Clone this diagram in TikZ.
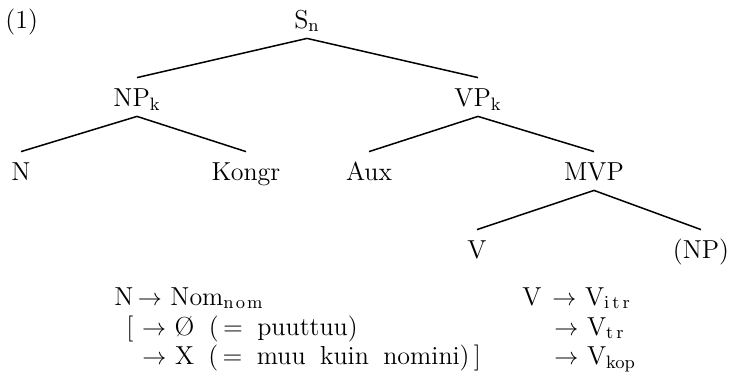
\documentclass[tikz,border=0pt]{standalone}
\usepackage{amsmath,amssymb}
\usepackage{tikz}
\usetikzlibrary{positioning}

\newcommand{\rgap}{\hspace{4.3pt}}

\tikzset{
  cat/.style={anchor=base, inner xsep=0pt, inner ysep=4.5pt, text height=9.5pt, text depth=0.5pt, font=\fontsize{13}{15}\selectfont},
  rulebox/.style={anchor=base west, inner sep=0pt, font=\fontsize{13}{15}\selectfont},
  widerule/.style={rulebox, font={\fontsize{13}{15}\selectfont\spaceskip=7.2pt\relax}},
  branch/.style={line width=0.75pt}
}

\begin{document}
\begin{tikzpicture}[x=0.5pt, y=-0.5pt]
            \useasboundingbox (0,0) rectangle (730,371);
            % example number
            \node[rulebox] (num) at (5,28) {(1)};
            % tree
            \node[cat] (S) at (307,28) {S$_{\mathrm{n}}$};
            \node[cat] (NP) at (137,106) {NP$_{\mathrm{k}}$};
            \node[cat] (VP) at (478,106) {VP$_{\mathrm{k}}$};
            \node[cat] (N) at (21,180) {N};
            \node[cat] (Kongr) at (246,180) {Kongr};
            \node[cat] (Aux) at (369,180) {Aux};
            \node[cat] (MVP) at (594,180) {MVP};
            \node[cat] (V) at (477,258) {V};
            \node[cat] (NPopt) at (701,258) {(NP)};
            \draw[branch] (S.south) -- (NP.north);
            \draw[branch] (S.south) -- (VP.north);
            \draw[branch] (NP.south) -- (N.north);
            \draw[branch] (NP.south) -- (Kongr.north);
            \draw[branch] (VP.south) -- (Aux.north);
            \draw[branch] (VP.south) -- (MVP.north);
            \draw[branch] (MVP.south) -- (V.north);
            \draw[branch] (MVP.south) -- (NPopt.north);
            % rules for N
            \node[rulebox] (ruleN1) at (114,305) {N\,$\rightarrow$\rgap Nom$_{\mathrm{n\mkern2mu o\mkern2mu m}}$};
            \node[widerule] (ruleN2) at (126,335) {[\rgap$\rightarrow$\rgap\O{} (\,= puuttuu)};
            \node[widerule] (ruleN3) at (142,364) {$\rightarrow$\rgap X (\,= muu kuin nomini)\,]};
            % rules for V
            \node[rulebox] (ruleV1) at (522,305) {V\hspace{5.5pt}$\rightarrow$\rgap V$_{\mathrm{i\,t\,r}}$};
            \node[rulebox] (ruleV2) at (554,335) {$\rightarrow$\rgap V$_{\mathrm{t\,r}}$};
            \node[rulebox] (ruleV3) at (554,364) {$\rightarrow$\rgap V$_{\mathrm{kop}}$};
        \end{tikzpicture}
\end{document}
